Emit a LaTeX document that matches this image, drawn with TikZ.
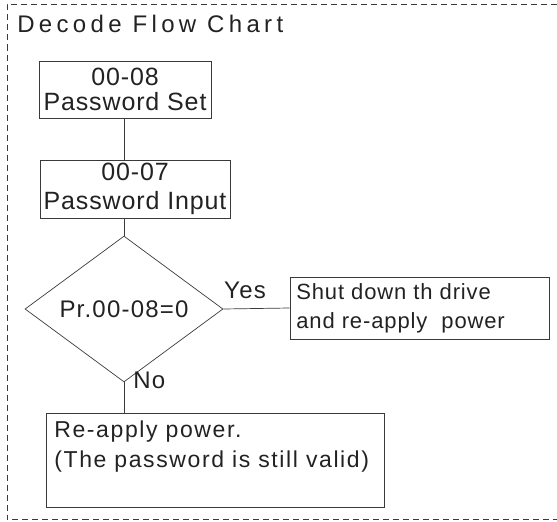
\documentclass[tikz,border=0pt]{standalone}
\usepackage{fontspec}
\setmainfont{Liberation Sans}
\newfontfamily\titlef[LetterSpace=18]{Liberation Sans}
\newfontfamily\boxf[LetterSpace=3.5]{Liberation Sans}
\newfontfamily\decf[LetterSpace=5]{Liberation Sans}
\newfontfamily\shutf[LetterSpace=4]{Liberation Sans}
\newfontfamily\reapf[LetterSpace=7]{Liberation Sans}
\usetikzlibrary{shapes.geometric}
\definecolor{ink}{HTML}{222222}
\definecolor{edge}{HTML}{3A3A3A}
\begin{document}
\begin{tikzpicture}[x=1pt,y=-1pt,line width=0.7pt,
  box/.style={draw=edge,rectangle,inner sep=0pt,text=ink},
  conn/.style={draw=edge,line width=0.7pt},
  lbl/.style={inner sep=0pt,text=ink,font={\decf\fontsize{24}{28}\selectfont}}]
\useasboundingbox (0,0) rectangle (557,522);
\draw[edge,dash pattern=on 6pt off 4pt,line width=0.8pt] (557,4.5) -- (7,4.5) -- (7,519) -- (557,519);
\node[anchor=base west,inner sep=0pt,text=ink] (title) at (17,32) {\titlef\fontsize{24}{28}\selectfont Decode Flow Chart};
\node[box,minimum width=172pt,minimum height=57pt,align=center,font={\boxf\fontsize{25}{25}\selectfont}] (set) at (125,89.5) {00-08\\Password Set};
\node[box,minimum width=190pt,minimum height=58pt,align=center,font={\boxf\fontsize{25}{29}\selectfont}] (input) at (135,189) {00-07\\Password Input};
\node[diamond,draw=edge,minimum width=198pt,minimum height=108pt,inner sep=0pt,text=ink,font={\decf\fontsize{24}{28}\selectfont}] (dec) at (124,309) {Pr.00-08=0};
\node[box,minimum width=259pt,minimum height=62pt] (shut) at (419.5,308) {};
\node[anchor=base west,inner sep=0pt,align=left,text=ink,font={\shutf\fontsize{22}{29.5}\selectfont}] (shuttext) at (296,328.5) {Shut down th drive\\and re-apply\ \ power};
\node[box,minimum width=338pt,minimum height=94pt] (reapply) at (215,460) {};
\node[anchor=base west,inner sep=0pt,align=left,text=ink,font={\reapf\fontsize{23}{30}\selectfont}] (reaptext) at (54,467) {Re-apply power.\\(The password is still valid)};
\node[lbl,anchor=base] (yes) at (245,298) {Yes};
\node[lbl,anchor=base west] (no) at (133,388) {No};
\draw[conn] (set.south -| dec.north) -- (input.north -| dec.north);
\draw[conn] (input.south -| dec.north) -- (dec.north);
\draw[conn] (dec.east) -- (shut.west);
\draw[conn] (dec.south) -- (reapply.north -| dec.south);
\end{tikzpicture}
\end{document}
